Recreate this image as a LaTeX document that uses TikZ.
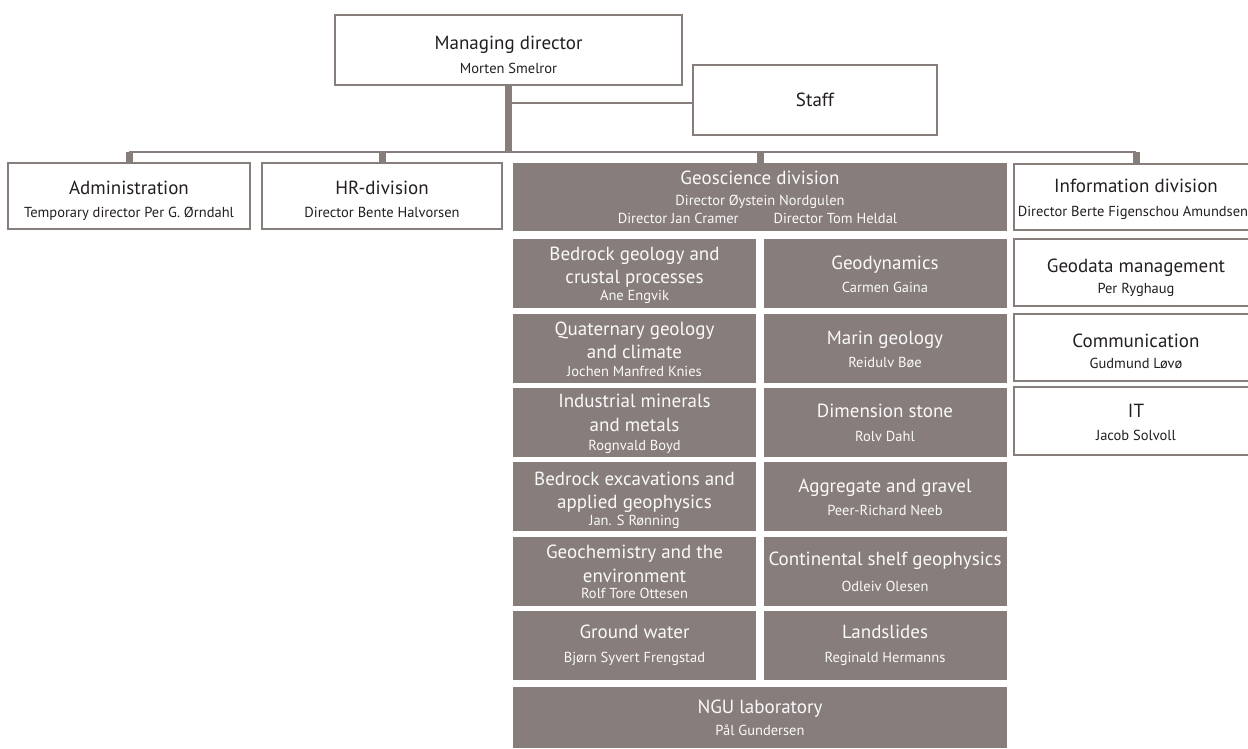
\documentclass[tikz,border=0pt]{standalone}
\usepackage{fontspec}
\setmainfont{PT Sans}
\usetikzlibrary{backgrounds}
\definecolor{ngugray}{RGB}{135,125,122}
\definecolor{ngutext}{RGB}{35,31,32}
\tikzset{
  wbox/.style={draw=ngugray, line width=2pt, fill=white, inner sep=0pt},
  dbox/.style={fill=ngugray, inner sep=0pt},
  sub/.style={dbox, minimum width=243pt, minimum height=69pt},
  side/.style={wbox, minimum width=244pt, minimum height=67pt},
  ttl/.style={anchor=base, inner sep=0pt, font=\fontsize{19}{22}\selectfont, text=ngutext},
  nam/.style={anchor=base, inner sep=0pt, font=\fontsize{14.5}{17}\selectfont, text=ngutext},
  dttl/.style={ttl, text=white!96!ngugray},
  dnam/.style={nam, text=white!96!ngugray},
  bus/.style={draw=ngugray, line width=2.5pt},
  drop/.style={draw=ngugray, line width=7pt},
}
\begin{document}
\begin{tikzpicture}[x=1pt,y=-1pt]
\useasboundingbox (0,0) rectangle (1248,749);
% top level
\node[wbox, minimum width=347pt, minimum height=70pt] (md) at (508.5,50) {};
\node[wbox, minimum width=244pt, minimum height=70pt] (staff) at (815,100) {};
\node[ttl] (mdT) at (508.5,50) {Managing director};
\node[nam] (mdN) at (508.5,74) {Morten Smelror};
\node[ttl] (staffT) at (815,107) {Staff};
% divisions
\node[wbox, minimum width=242pt, minimum height=66pt] (adm) at (129,196) {};
\node[wbox, minimum width=240pt, minimum height=66pt] (hr) at (382,196) {};
\node[dbox, minimum width=494pt, minimum height=68pt] (geo) at (760,197) {};
\node[side, minimum height=66pt] (info) at (1136,197) {};
\node[ttl] (admT) at (129,194) {Administration};
\node[nam] (admN) at (129,217) {Temporary director Per G. Ørndahl};
\node[ttl] (hrT) at (382,194) {HR-division};
\node[nam] (hrN) at (382,217) {Director Bente Halvorsen};
\node[dttl] (geoT) at (760,185) {Geoscience division};
\node[dnam] (geoN) at (760,205) {Director Øystein Nordgulen};
\node[dnam] (geoM) at (757.5,223) {Director Jan Cramer\hspace{35pt}Director Tom Heldal};
\node[ttl] (infoT) at (1136,193) {Information division};
\node[nam] (infoN) at (1133,216) {Director Berte Figenschou Amundsen};
% information division
\node[side] (gdm) at (1136,272.5) {};
\node[side] (com) at (1136,347.5) {};
\node[side, minimum height=68pt] (it) at (1136,421) {};
\node[ttl] (gdmT) at (1136,272) {Geodata management};
\node[nam] (gdmN) at (1136,293) {Per Ryghaug};
\node[ttl] (comT) at (1136,347) {Communication};
\node[nam] (comN) at (1136,368) {Gudmund Løvø};
\node[ttl] (itT) at (1136,417) {IT};
\node[nam] (itN) at (1136,440) {Jacob Solvoll};
% geoscience division
\node[sub] (bed) at (634.5,273) {};
\node[sub] (gdy) at (885,273) {};
\node[sub] (qua) at (634.5,348.5) {};
\node[sub] (mar) at (885,348.5) {};
\node[sub] (ind) at (634.5,422.5) {};
\node[sub] (dim) at (885,422.5) {};
\node[sub] (exc) at (634.5,496.5) {};
\node[sub] (agg) at (885,496.5) {};
\node[sub] (gch) at (634.5,571.5) {};
\node[sub] (csh) at (885,571.5) {};
\node[sub] (gwa) at (634.5,645.5) {};
\node[sub] (lsl) at (885,645.5) {};
\node[dbox, minimum width=494pt, minimum height=61pt] (lab) at (760,717.5) {};
\node[dttl] (bedT) at (634.5,260) {Bedrock geology and};
\node[dttl] (bedU) at (634.5,283) {crustal processes};
\node[dnam] (bedN) at (634.5,300) {Ane Engvik};
\node[dttl] (gdyT) at (885,269) {Geodynamics};
\node[dnam] (gdyN) at (885,292) {Carmen Gaina};
\node[dttl] (quaT) at (634.5,335) {Quaternary geology};
\node[dttl] (quaU) at (634.5,358) {and climate};
\node[dnam] (quaN) at (634.5,376) {Jochen Manfred Knies};
\node[dttl] (marT) at (885,344) {Marin geology};
\node[dnam] (marN) at (885,367) {Reidulv Bøe};
\node[dttl] (indT) at (634.5,407) {Industrial minerals};
\node[dttl] (indU) at (634.5,431) {and metals};
\node[dnam] (indN) at (634.5,450) {Rognvald Boyd};
\node[dttl] (dimT) at (885,417) {Dimension stone};
\node[dnam] (dimN) at (885,441) {Rolv Dahl};
\node[dttl] (excT) at (634.5,485) {Bedrock excavations and};
\node[dttl] (excU) at (634.5,508) {applied geophysics};
\node[dnam] (excN) at (634.5,525) {Jan. S Rønning};
\node[dttl] (aggT) at (885,492) {Aggregate and gravel};
\node[dnam] (aggN) at (885,515) {Peer-Richard Neeb};
\node[dttl] (gchT) at (634.5,558) {Geochemistry and the};
\node[dttl] (gchU) at (634.5,582) {environment};
\node[dnam] (gchN) at (634.5,598) {Rolf Tore Ottesen};
\node[dttl] (cshT) at (885,565) {Continental shelf geophysics};
\node[dnam] (cshN) at (885,591) {Odleiv Olesen};
\node[dttl] (gwaT) at (634.5,638) {Ground water};
\node[dnam] (gwaN) at (634.5,662) {Bjørn Syvert Frengstad};
\node[dttl] (lslT) at (885,638) {Landslides};
\node[dnam] (lslN) at (885,662) {Reginald Hermanns};
\node[dttl] (labT) at (760,713) {NGU laboratory};
\node[dnam] (labN) at (760,735) {Pål Gundersen};
% connectors
\begin{scope}[on background layer]
\coordinate (busy) at (0,152);
\draw[bus] ([yshift=-3pt]staff.west) -- ([yshift=-3pt]staff.west -| md.south);
\draw[bus] (adm.north |- busy) -- (info.north |- busy);
\draw[drop] (md.south) -- (md.south |- busy);
\foreach \n in {adm,hr,geo,info}
  \draw[drop] (\n.north |- busy) -- (\n.north);
\end{scope}
\end{tikzpicture}
\end{document}
